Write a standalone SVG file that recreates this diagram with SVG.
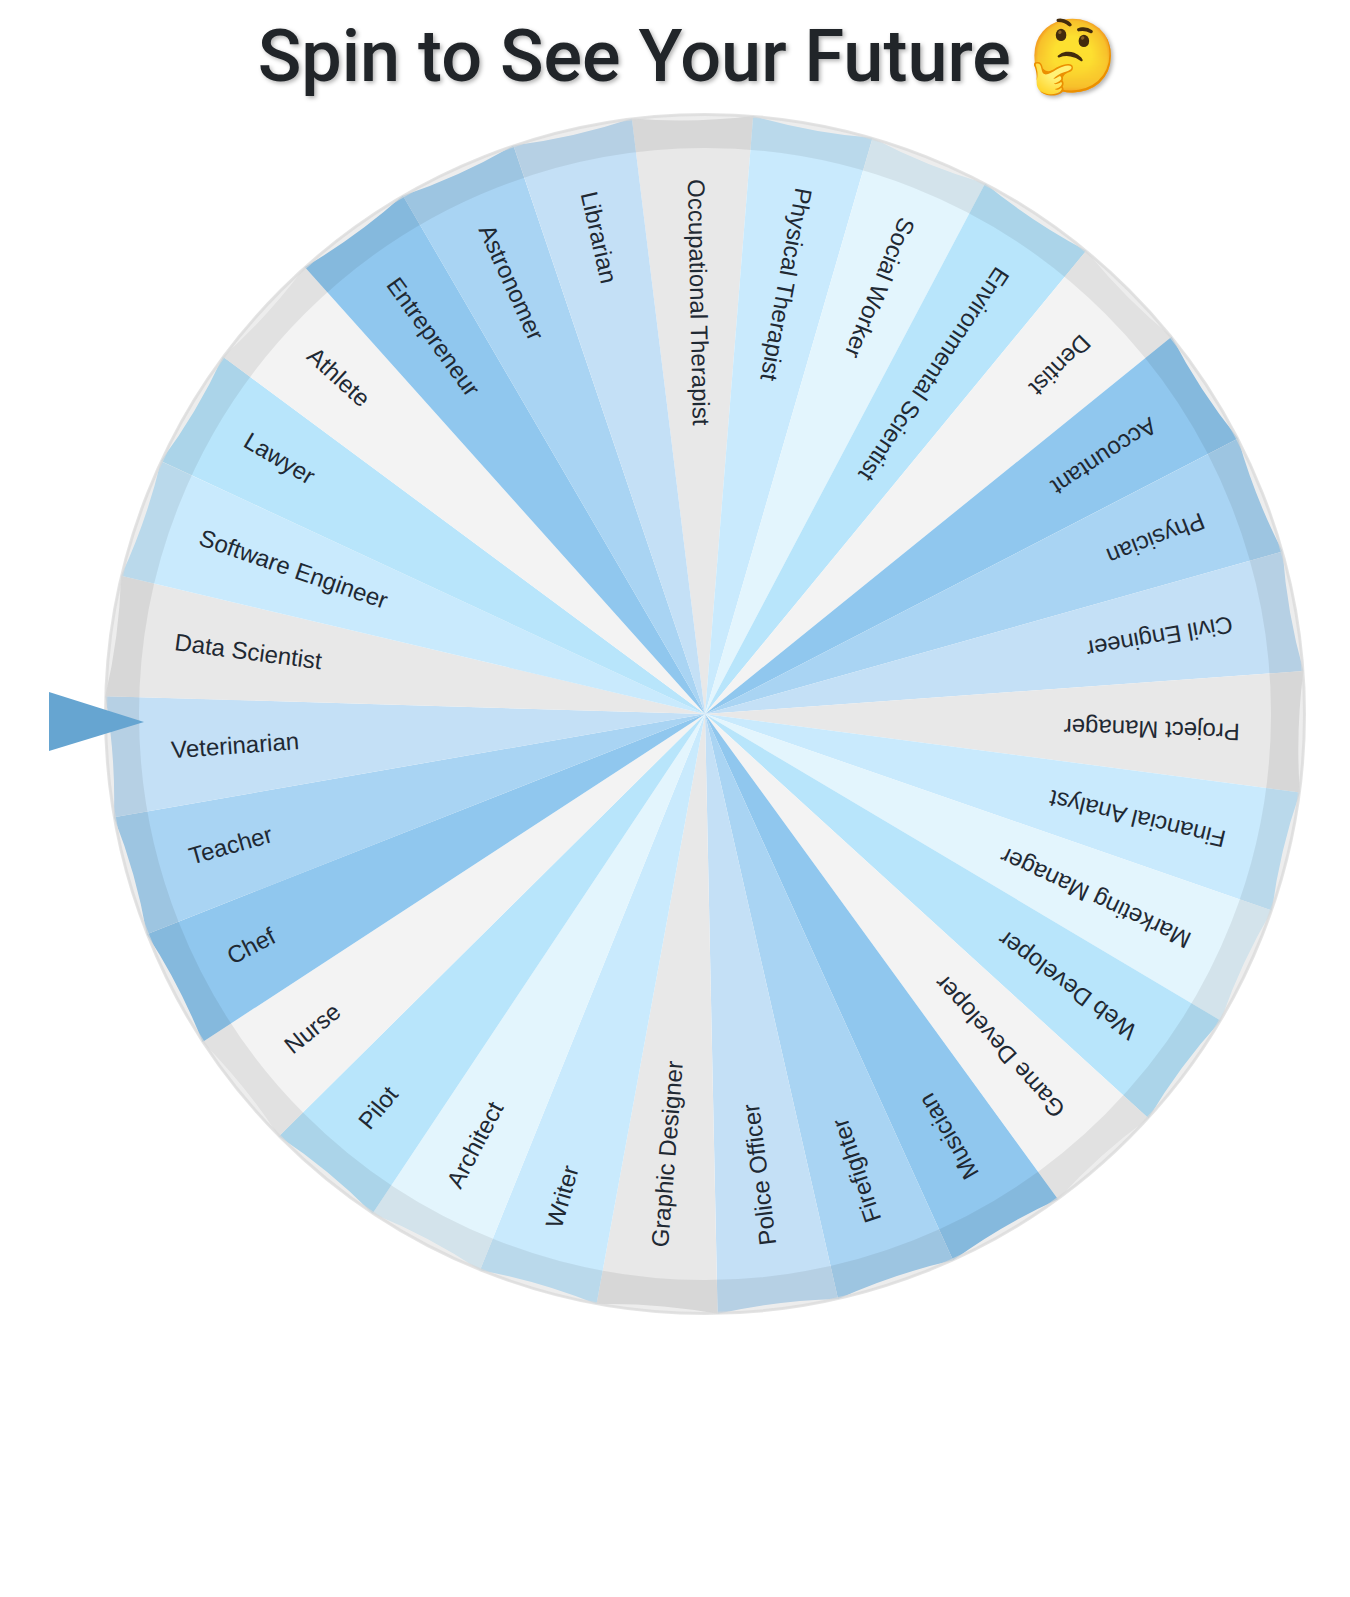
<svg xmlns="http://www.w3.org/2000/svg" width="1350" height="1597" viewBox="0 0 1350 1597">
<style>
.w{stroke:none}
.c0{fill:#e8e8e8}.c1{fill:#c9eafd}.c2{fill:#e3f5fd}.c3{fill:#b8e5fb}.c4{fill:#f3f3f3}.c5{fill:#90c7ee}.c6{fill:#a9d4f3}.c7{fill:#c4e0f6}
.t{font-family:"Liberation Sans",Arial,sans-serif;font-size:24px;fill:#1f2933}
.title{font-family:Roboto,"Noto Color Emoji",sans-serif;font-size:72px;font-weight:500;fill:#212529;filter:drop-shadow(2px 2px 2px rgba(0,0,0,.3))}
</style>
<defs><path id="wedge" class="w" d="M0 0L-596.92 -60.7A600 600 0 0 1 -596.92 60.7Z"/></defs>
<rect width="1350" height="1597" fill="#fff"/>
<text id="title" class="title" x="688" y="81" text-anchor="middle">Spin to See Your Future 🤔</text>
<g id="wheel">
<g id="n0" transform="translate(705 714) rotate(88.8)"><use href="#wedge" class="c0"/><text class="t" x="-535" y="6">Occupational Therapist</text></g>
<g id="n1" transform="translate(705 714) rotate(100.41)"><use href="#wedge" class="c1"/><text class="t" x="-535" y="6">Physical Therapist</text></g>
<g id="n2" transform="translate(705 714) rotate(112.03)"><use href="#wedge" class="c2"/><text class="t" x="-535" y="6">Social Worker</text></g>
<g id="n3" transform="translate(705 714) rotate(123.64)"><use href="#wedge" class="c3"/><text class="t" x="-535" y="6">Environmental Scientist</text></g>
<g id="n4" transform="translate(705 714) rotate(135.25)"><use href="#wedge" class="c4"/><text class="t" x="-535" y="6">Dentist</text></g>
<g id="n5" transform="translate(705 714) rotate(146.86)"><use href="#wedge" class="c5"/><text class="t" x="-535" y="6">Accountant</text></g>
<g id="n6" transform="translate(705 714) rotate(158.48)"><use href="#wedge" class="c6"/><text class="t" x="-535" y="6">Physician</text></g>
<g id="n7" transform="translate(705 714) rotate(170.09)"><use href="#wedge" class="c7"/><text class="t" x="-535" y="6">Civil Engineer</text></g>
<g id="n8" transform="translate(705 714) rotate(181.7)"><use href="#wedge" class="c0"/><text class="t" x="-535" y="6">Project Manager</text></g>
<g id="n9" transform="translate(705 714) rotate(193.32)"><use href="#wedge" class="c1"/><text class="t" x="-535" y="6">Financial Analyst</text></g>
<g id="n10" transform="translate(705 714) rotate(204.93)"><use href="#wedge" class="c2"/><text class="t" x="-535" y="6">Marketing Manager</text></g>
<g id="n11" transform="translate(705 714) rotate(216.54)"><use href="#wedge" class="c3"/><text class="t" x="-535" y="6">Web Developer</text></g>
<g id="n12" transform="translate(705 714) rotate(228.15)"><use href="#wedge" class="c4"/><text class="t" x="-535" y="6">Game Developer</text></g>
<g id="n13" transform="translate(705 714) rotate(239.77)"><use href="#wedge" class="c5"/><text class="t" x="-535" y="6">Musician</text></g>
<g id="n14" transform="translate(705 714) rotate(251.38)"><use href="#wedge" class="c6"/><text class="t" x="-535" y="6">Firefighter</text></g>
<g id="n15" transform="translate(705 714) rotate(262.99)"><use href="#wedge" class="c7"/><text class="t" x="-535" y="6">Police Officer</text></g>
<g id="n16" transform="translate(705 714) rotate(274.61)"><use href="#wedge" class="c0"/><text class="t" x="-535" y="6">Graphic Designer</text></g>
<g id="n17" transform="translate(705 714) rotate(286.22)"><use href="#wedge" class="c1"/><text class="t" x="-535" y="6">Writer</text></g>
<g id="n18" transform="translate(705 714) rotate(297.83)"><use href="#wedge" class="c2"/><text class="t" x="-535" y="6">Architect</text></g>
<g id="n19" transform="translate(705 714) rotate(309.45)"><use href="#wedge" class="c3"/><text class="t" x="-535" y="6">Pilot</text></g>
<g id="n20" transform="translate(705 714) rotate(321.06)"><use href="#wedge" class="c4"/><text class="t" x="-535" y="6">Nurse</text></g>
<g id="n21" transform="translate(705 714) rotate(332.67)"><use href="#wedge" class="c5"/><text class="t" x="-535" y="6">Chef</text></g>
<g id="n22" transform="translate(705 714) rotate(344.28)"><use href="#wedge" class="c6"/><text class="t" x="-535" y="6">Teacher</text></g>
<g id="n23" transform="translate(705 714) rotate(355.9)"><use href="#wedge" class="c7"/><text class="t" x="-535" y="6">Veterinarian</text></g>
<g id="n24" transform="translate(705 714) rotate(367.51)"><use href="#wedge" class="c0"/><text class="t" x="-535" y="6">Data Scientist</text></g>
<g id="n25" transform="translate(705 714) rotate(379.12)"><use href="#wedge" class="c1"/><text class="t" x="-535" y="6">Software Engineer</text></g>
<g id="n26" transform="translate(705 714) rotate(390.74)"><use href="#wedge" class="c3"/><text class="t" x="-535" y="6">Lawyer</text></g>
<g id="n27" transform="translate(705 714) rotate(402.35)"><use href="#wedge" class="c4"/><text class="t" x="-535" y="6">Athlete</text></g>
<g id="n28" transform="translate(705 714) rotate(413.96)"><use href="#wedge" class="c5"/><text class="t" x="-535" y="6">Entrepreneur</text></g>
<g id="n29" transform="translate(705 714) rotate(425.57)"><use href="#wedge" class="c6"/><text class="t" x="-535" y="6">Astronomer</text></g>
<g id="n30" transform="translate(705 714) rotate(437.19)"><use href="#wedge" class="c7"/><text class="t" x="-535" y="6">Librarian</text></g>
<circle id="rim" cx="705" cy="714" r="583" fill="none" stroke="#000" stroke-opacity=".07" stroke-width="34"/>
<circle id="edge" cx="705" cy="714" r="599.5" fill="none" stroke="#d8d8d8" stroke-opacity=".7" stroke-width="3"/>
</g>
<polygon id="pointer" points="49,692 49,751 144,722" fill="#66a5d1"/>
</svg>
